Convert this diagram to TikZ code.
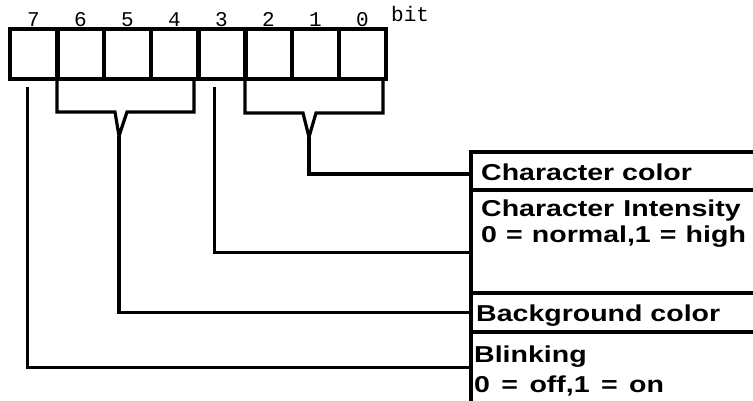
\documentclass[tikz,border=0pt]{standalone}
\usepackage{fontspec}
\setmainfont{Liberation Sans}
\setmonofont{Liberation Mono}
\usepackage{graphicx}
\usetikzlibrary{positioning}
\newcommand{\widetxt}[1]{\scalebox{1.24}[1]{#1}}
\newcommand{\gap}{\hspace{0.4em}}
\newcommand{\smallgap}{\hspace{0.32em}}

\tikzset{
  cell/.style={draw, line width=3.4pt, minimum width=47pt, minimum height=50pt,
    outer sep=0pt, inner sep=0pt},
  bitno/.style={anchor=base, inner sep=0pt, font=\fontsize{21}{21}\selectfont\ttfamily},
  panel/.style={minimum width=282pt, outer sep=0pt, inner sep=0pt},
  lbl/.style={anchor=base west, inner sep=0pt, font=\fontsize{23}{23}\selectfont\bfseries},
  wire/.style={line width=3.2pt, line join=miter},
  grp/.style={line width=5pt}
}

\begin{document}
\begin{tikzpicture}[x=1pt,y=-1pt]
  \useasboundingbox (0,0) rectangle (753,401);

  % Byte (bits 7..0)
  \foreach \b [count=\k from 0] in {7,6,...,0}{
    \node[cell] (c\b) at (33.5+47*\k,54) {};
    \node[bitno] (n\b) at (33.5+47*\k,27) {\b};
  }
  \node[bitno, anchor=base west] (bitlbl) at (391,22) {bit};

  % Trennlinien der Gruppen
  \foreach \a in {7,4,3}
    \draw[grp] (c\a.north east) -- (c\a.south east);

  % Feld rechts
  \node[panel, minimum height=38pt] (charcolor) at (612,171) {};
  \node[panel, minimum height=103pt, below=0pt of charcolor] (intensity) {};
  \node[panel, minimum height=39pt, below=0pt of intensity] (bgcolor) {};
  \node[panel, minimum height=69pt, below=0pt of bgcolor] (blink) {};
  \draw[wire] (charcolor.north east) -- (charcolor.north west) -- (blink.south west);
  \foreach \p in {charcolor,intensity,bgcolor}
    \draw[wire] (\p.south west) -- (\p.south east);

  % Texte
  \node[lbl] (t1) at (481,181) {\widetxt{Character color}};
  \node[lbl] (t2) at (481,216) {\widetxt{Character\smallgap Intensity}};
  \node[lbl] (t3) at (481,242) {\widetxt{0\smallgap=\smallgap normal,1\smallgap=\smallgap high}};
  \node[lbl] (t4) at (476,321) {\widetxt{Background color}};
  \node[lbl] (t5) at (474,362) {\widetxt{Blinking}};
  \node[lbl] (t6) at (474,392) {\widetxt{0\gap=\gap off,1\gap=\gap on}};

  % Klammern und Verbindungen
  \coordinate (v1) at (119,136);
  \coordinate (v2) at (309,137);
  \draw[wire] (c6.south west) |- (115,112) -- (v1) -- (127,112)
    -| ([xshift=-4pt]c4.south east);
  \draw[wire] (v1) |- (bgcolor.west);
  \draw[wire] (c2.south west) |- (303,113) -- (v2) -- (316,113)
    -| ([xshift=-3pt]c0.south east);
  \draw[wire] (v2) |- ([yshift=-3pt]charcolor.west);
  \draw[wire] ([xshift=-7pt,yshift=-8pt]c3.south) |- ([yshift=-11pt]intensity.west);
  \draw[wire] ([xshift=-6pt,yshift=-8pt]c7.south) |- ([yshift=-1pt]blink.west);
\end{tikzpicture}
\end{document}
